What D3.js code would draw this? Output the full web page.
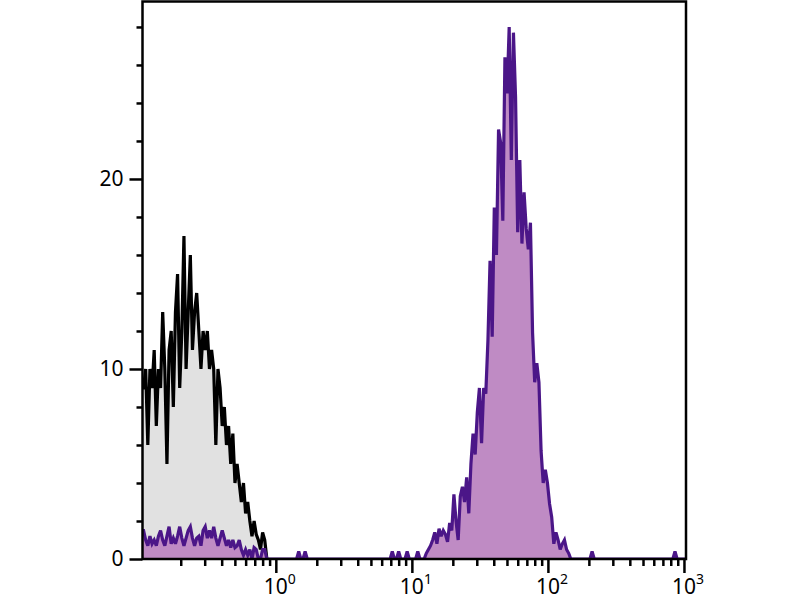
<!DOCTYPE html>
<html>
<head>
<meta charset="utf-8">
<script src="https://cdn.jsdelivr.net/npm/d3@7"></script>
<style>
  html, body { margin: 0; padding: 0; background: #ffffff; }
  svg { display: block; }
  text { font-family: "Noto Sans", "Open Sans", sans-serif; fill: #000; }
</style>
</head>
<body>
<svg id="chart" width="800" height="600"></svg>
<script>
// ---------------- data ----------------
// histogram channels: 64 bins per decade, first bin starts at log10 = -0.98
const binsPerDecade = 64;
const logStart = -0.98;
const logEnd = 3.015;

// control (isotype) histogram, starting at bin 0
const controlCounts = [9,10,6,10,9,11,7,10,9,13,10,5,11,12,8,13,15,9,12,17,10,13,16,11,13,14,12,10,12,11,12,10,11,10,6,10,9,7,8,6,7,5,6.6,4,5,4,3,4,2.4,3,2,1.2,2,1.3,1,0.5,1.4,1,0];

// stained sample: low-level events at the left edge, starting at bin 0
const stainedLowCounts = [1.5,1,0.7,1.2,0.8,1,0.7,1.2,1.5,1,0.7,1.2,1.7,0.8,1.1,0.8,1.2,1.7,1.1,0.7,1.1,1.5,1.7,1.1,0.7,1.1,1.2,0.7,1.5,1.7,1.1,1.5,1.1,1.7,1.1,0.7,1.1,1.5,1.1,0.7,1,0.6,1,0.6,0.7,1,0.5,0.2,0.5,0.2,0.5,0,0.6,0.5,0,0,0.5,0.5,0];

// stained sample: main peak, starting at bin 133
const stainedMainStart = 133;
const stainedMainCounts = [0.3,0.5,0.7,1.0,1.4,0.8,1.6,1.2,1.5,1.3,0.9,1.9,1.5,3.4,2.0,1.0,3.3,3.8,3.0,4.3,2.4,5.0,6.6,5.5,7.7,9.0,6.1,9.0,8.7,11.5,15.7,11.7,18.5,16.0,22.6,21.9,17.8,26.4,24.5,28.0,21.0,27.7,24.3,17.2,21.0,16.6,19.3,17.4,16.3,17.7,11.9,9.3,10.3,9.3,5.7,4.0,4.7,4.0,2.9,2.2,0.8,1.4,1.0,0.5,0.8,1.0,0.5,0.3,0];

// stained sample: isolated single events [bin, count]
const stainedSingles = [[73,0.4],[76,0.4],[117,0.4],[120,0.4],[124,0.4],[129,0.4],[211,0.4],[250,0.4]];

const yMajorTicks = [0, 10, 20];
const yMinorTicks = [2,4,6,8,12,14,16,18,22,24,26,28];
const xMajorTicks = [1, 10, 100, 1000];
const xMajorLabels = [["10","0"],["10","1"],["10","2"],["10","3"]];
const xMinorTicks = [0.2,0.3,0.4,0.5,0.6,0.7,0.8,0.9,2,3,4,5,6,7,8,9,20,30,40,50,60,70,80,90,200,300,400,500,600,700,800,900];

const yMax = 29.34;

// ---------------- layout ----------------
const plot = { left: 142.5, right: 686, top: 1.5, bottom: 559 };
const svg = d3.select("#chart");

const x = d3.scaleLog()
  .domain([Math.pow(10, logStart), Math.pow(10, logEnd)])
  .range([plot.left, plot.right]);
const y = d3.scaleLinear().domain([0, yMax]).range([plot.bottom, plot.top]);

const nBins = Math.round((logEnd - logStart) * binsPerDecade);
const binCenter = i => Math.pow(10, logStart + (i + 0.5) / binsPerDecade);

function seriesFrom(counts, start) {
  return counts.map((c, k) => ({ v: binCenter(start + k), c }));
}
const control = seriesFrom(controlCounts, 0);
control.unshift({ v: Math.pow(10, logStart), c: controlCounts[0] });

const stainedArr = new Array(nBins).fill(0);
stainedLowCounts.forEach((c, k) => { stainedArr[k] = c; });
stainedMainCounts.forEach((c, k) => { stainedArr[stainedMainStart + k] = c; });
stainedSingles.forEach(([b, c]) => { stainedArr[b] = c; });
const stained = seriesFrom(stainedArr, 0);
stained.unshift({ v: Math.pow(10, logStart), c: stainedArr[0] });

svg.append("defs").append("clipPath").attr("id", "clip")
  .append("rect")
  .attr("x", plot.left).attr("y", plot.top)
  .attr("width", plot.right - plot.left).attr("height", plot.bottom - plot.top);

const area = d3.area().x(d => x(d.v)).y0(y(0)).y1(d => y(d.c));
const line = d3.line().x(d => x(d.v)).y(d => y(d.c));

const g = svg.append("g").attr("clip-path", "url(#clip)");

g.append("path").datum(control)
  .attr("d", area).attr("fill", "#e1e1e1");
g.append("path").datum(control)
  .attr("d", line).attr("fill", "none")
  .attr("stroke", "#000").attr("stroke-width", 3.2).attr("stroke-linejoin", "miter").attr("stroke-miterlimit", 3);

g.append("path").datum(stained)
  .attr("d", area).attr("fill", "#bf8bc4");
g.append("path").datum(stained)
  .attr("d", line).attr("fill", "none")
  .attr("stroke", "#4b1688").attr("stroke-width", 3.2).attr("stroke-linejoin", "miter").attr("stroke-miterlimit", 3);

// ---------------- axes ----------------
function styleAxis(sel) {
  sel.select(".domain").remove();
  sel.selectAll(".tick line").attr("stroke", "#000").attr("stroke-width", 2.5);
}

const yMajor = svg.append("g").attr("transform", `translate(${plot.left},0)`)
  .call(d3.axisLeft(y).tickValues(yMajorTicks).tickSize(13).tickPadding(6).tickFormat(d3.format("d")));
styleAxis(yMajor);
yMajor.selectAll("text").attr("font-size", 21).attr("fill", "#000")
  .style("font-family", '"Noto Sans", "Open Sans", sans-serif');

const yMinor = svg.append("g").attr("transform", `translate(${plot.left},0)`)
  .call(d3.axisLeft(y).tickValues(yMinorTicks).tickSize(6).tickFormat(""));
styleAxis(yMinor);

const xMajor = svg.append("g").attr("transform", `translate(0,${plot.bottom})`)
  .call(d3.axisBottom(x).tickValues(xMajorTicks).tickSize(14).tickFormat(""));
styleAxis(xMajor);

const xMinor = svg.append("g").attr("transform", `translate(0,${plot.bottom})`)
  .call(d3.axisBottom(x).tickValues(xMinorTicks).tickSize(7).tickFormat(""));
styleAxis(xMinor);

const xl = svg.append("g");
xMajorTicks.forEach((v, i) => {
  const t = xl.append("text")
    .attr("x", x(v) + 4).attr("y", 594)
    .attr("text-anchor", "middle")
    .attr("font-size", 21);
  t.append("tspan").text(xMajorLabels[i][0]);
  t.append("tspan").attr("font-size", 14).attr("dy", -10).text(xMajorLabels[i][1]);
});

svg.append("rect")
  .attr("x", plot.left).attr("y", plot.top)
  .attr("width", plot.right - plot.left).attr("height", plot.bottom - plot.top)
  .attr("fill", "none").attr("stroke", "#000").attr("stroke-width", 2.5);
</script>
</body>
</html>
